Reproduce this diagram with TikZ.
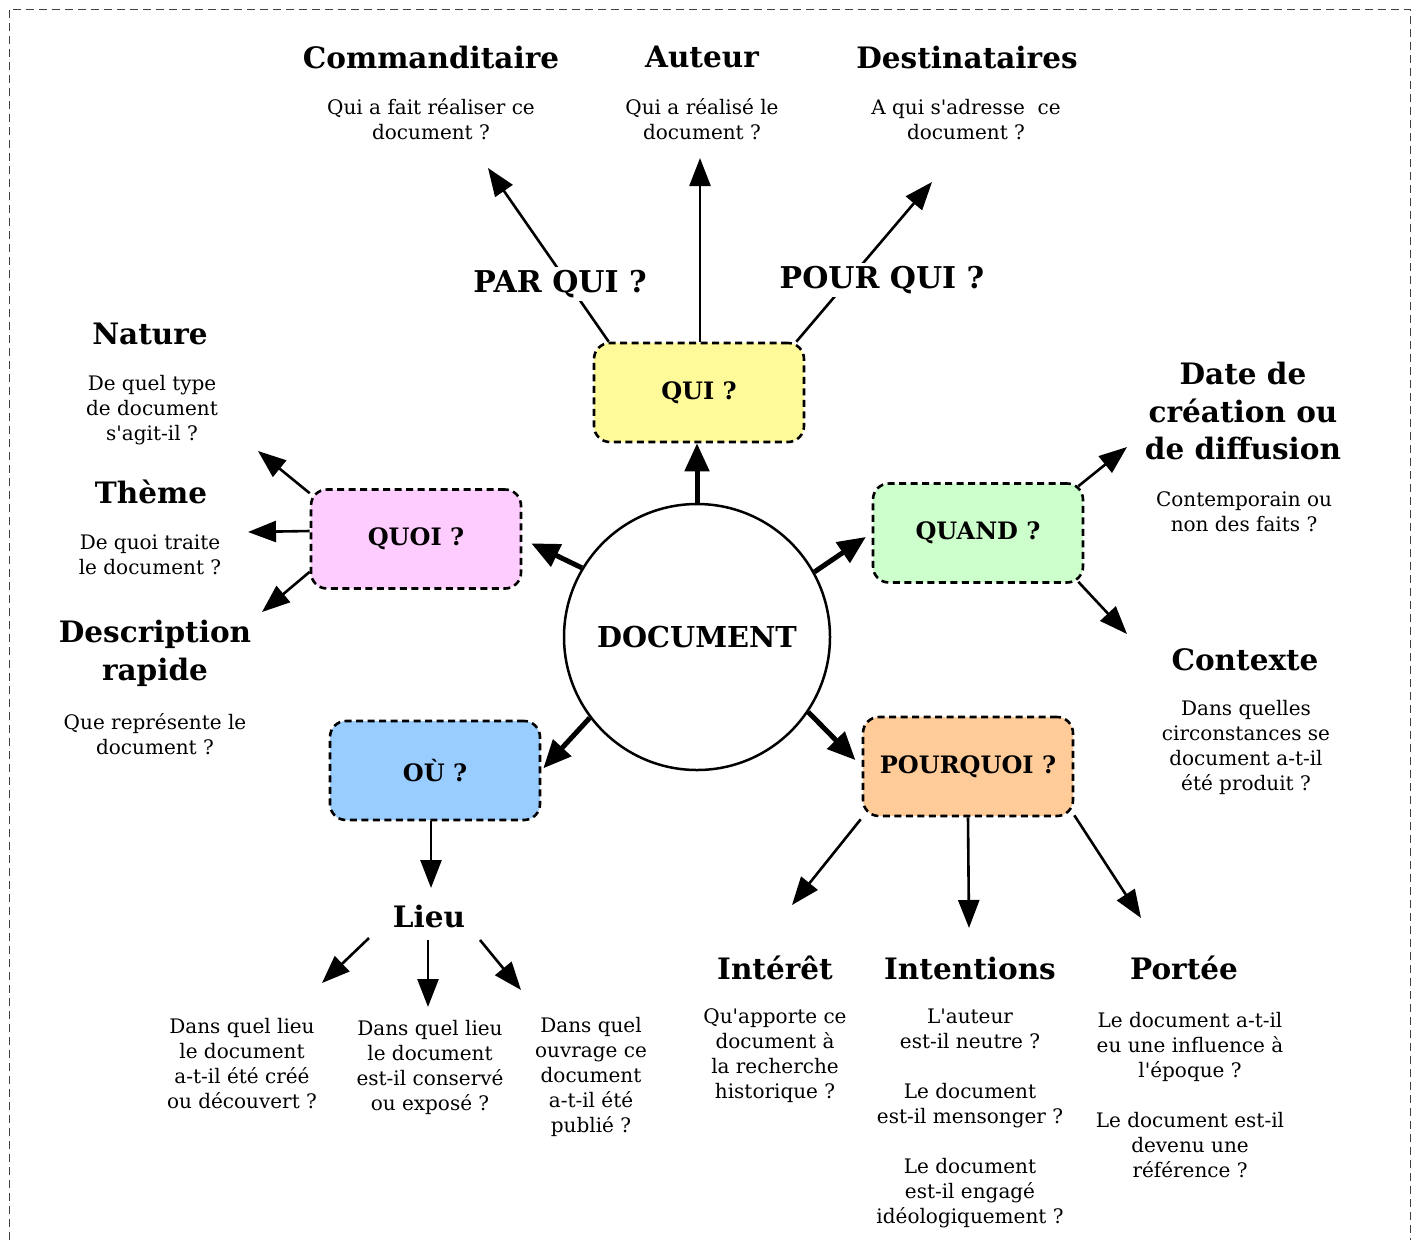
\documentclass[tikz,border=0pt]{standalone}
\usepackage{fontspec}
\setmainfont{DejaVu Serif}
\usetikzlibrary{arrows.meta}
\definecolor{qyellow}{HTML}{FFFA99}
\definecolor{qpink}{HTML}{FFCCFF}
\definecolor{qgreen}{HTML}{CCFFCC}
\definecolor{qblue}{HTML}{99CCFF}
\definecolor{qorange}{HTML}{FFCC99}
\newcommand{\ap}{\textquotesingle}
\tikzset{
 qbox/.style={draw, line width=2.6pt, dash pattern=on 7pt off 4.5pt, rounded corners=16pt,
   minimum width=210pt, minimum height=99pt, inner sep=0pt,
   font=\fontsize{24}{28}\selectfont\bfseries},
 ttl/.style={font=\fontsize{29.5}{37.5}\selectfont\bfseries, align=center, inner sep=0pt},
 body/.style={font=\fontsize{20}{25}\selectfont, align=center, inner sep=0pt},
 thinarrow/.style={line width=2.6pt, -{Triangle[length=28pt,width=21pt]}},
 thickarrow/.style={line width=5pt, -{Triangle[length=28pt,width=24pt]}},
 qlabel/.style={font=\fontsize{30}{36}\selectfont\bfseries, fill=white, inner sep=3pt},
}
\begin{document}
\begin{tikzpicture}[x=1pt,y=-1pt]
\useasboundingbox (0,0) rectangle (1418,1240);
\draw[black!75, line width=1pt, dash pattern=on 8pt off 5pt] (9,1240) -- (9,9) -- (1410,9) -- (1410,1240);

% central circle
\node[circle, draw, line width=2.5pt, minimum size=266pt, inner sep=0pt,
      font=\fontsize{28.8}{34}\selectfont\bfseries] (doc) at (697,637) {DOCUMENT};

% question boxes
\node[qbox, fill=qyellow] (qui) at (699,392.5) {QUI ?};
\node[qbox, fill=qpink] (quoi) at (416,539) {QUOI ?};
\node[qbox, fill=qgreen] (quand) at (978,533) {QUAND ?};
\node[qbox, fill=qblue] (ou) at (435,770.5) {OÙ ?};
\node[qbox, fill=qorange] (pourquoi) at (968,766.5) {POURQUOI ?};

% thick arrows from circle
\draw[thickarrow] (doc.north) -- (doc.north |- qui.south);
\draw[thickarrow, shorten >=7pt] (doc.29) -- (quand.west);
\draw[thickarrow, shorten >=10pt] (doc.149) -- (quoi.east);
\draw[thickarrow, shorten >=3pt] (doc.217) -- (ou.east);
\draw[thickarrow, shorten >=9pt] (doc.-34) -- (pourquoi.west);

% titles and texts - QUI
\node[ttl] (tcom) at (431,57) {Commanditaire};
\node[body] (bcom) at (431,119.5) {Qui a fait réaliser ce\\document ?};
\node[ttl] (taut) at (702,57) {Auteur};
\node[body] (baut) at (702,119.5) {Qui a réalisé le\\document ?};
\node[ttl] (tdes) at (967,57) {Destinataires};
\node[body] (bdes) at (966,119.5) {A qui s\ap adresse\ \ ce\\document ?};

\coordinate (a1) at (488,168);
\coordinate (a2) at (700,158);
\coordinate (a3) at (932,182);
\draw[thinarrow] ([xshift=16pt]qui.north west) -- (a1);
\draw[thinarrow] (qui.north -| a2) -- (a2);
\draw[thinarrow] ([xshift=-9pt]qui.north east) -- (a3);
\node[qlabel] (parqui) at (560,284) {PAR QUI ?};
\node[qlabel] (pourqui) at (882,280) {POUR QUI ?};

% QUOI
\node[ttl] (tnat) at (150,334) {Nature};
\node[body] (bnat) at (152,410) {De quel type\\de document\\s\ap agit-il ?};
\node[ttl] (tthe) at (151,492) {Thème};
\node[body] (bthe) at (150,554.5) {De quoi traite\\le document ?};
\node[ttl] (tdesc) at (155,653.5) {Description\\rapide};
\node[body] (bdesc) at (155,734.5) {Que représente le\\document ?};
\coordinate (b1) at (258,451);
\coordinate (b2) at (248,532);
\coordinate (b3) at (262,612);
\draw[thinarrow] ([yshift=-5pt]quoi.north west) -- (b1);
\draw[thinarrow] ([yshift=8pt]quoi.west) -- (b2);
\draw[thinarrow] ([yshift=18pt]quoi.south west) -- (b3);

% QUAND
\node[ttl] (tdate) at (1243,411) {Date de\\création ou\\de diffusion};
\node[body] (bdate) at (1244,511.5) {Contemporain ou\\non des faits ?};
\node[ttl] (tctx) at (1245,660) {Contexte};
\node[body] (bctx) at (1246,747.5) {Dans quelles\\circonstances se\\document a-t-il\\été produit ?};
\coordinate (c1) at (1127,447);
\coordinate (c2) at (1127,634);
\draw[thinarrow] ([xshift=-6pt,yshift=-4pt]quand.north east) -- (c1);
\draw[thinarrow] ([xshift=-6pt,yshift=2pt]quand.south east) -- (c2);

% OU
\node[ttl] (tlieu) at (429,916) {Lieu};
\coordinate (d0) at (431,888);
\draw[thinarrow] (ou.south -| d0) -- (d0);
\coordinate (d1s) at (369,938);
\coordinate (d1) at (322,983);
\coordinate (d2s) at (428,940);
\coordinate (d2) at (428,1007);
\coordinate (d3s) at (480,940);
\coordinate (d3) at (521,990);
\draw[thinarrow] (d1s) -- (d1);
\draw[thinarrow] (d2s) -- (d2);
\draw[thinarrow] (d3s) -- (d3);
\node[body] (bl1) at (242,1063.5) {Dans quel lieu\\le document\\a-t-il été créé\\ou découvert ?};
\node[body] (bl2) at (430,1067.5) {Dans quel lieu\\le document\\est-il conservé\\ou exposé ?};
\node[body] (bl3) at (591,1077) {Dans quel\\ouvrage ce\\document\\a-t-il été\\publié ?};

% POURQUOI
\coordinate (e1) at (792,905);
\coordinate (e2) at (969,928);
\coordinate (e3) at (1141,918);
\draw[thinarrow] ([xshift=-1pt,yshift=-2pt]pourquoi.south west) -- (e1);
\draw[thinarrow] (pourquoi.south) -- (e2);
\draw[thinarrow] ([yshift=2pt]pourquoi.south east) -- (e3);
\node[ttl] (tint) at (775,968) {Intérêt};
\node[body] (bint) at (775,1055.5) {Qu\ap apporte ce\\document à\\la recherche\\historique ?};
\node[ttl] (tinten) at (970,968) {Intentions};
\node[body] (binten) at (970,1118.5) {L\ap auteur\\est-il neutre ?\\[25pt]Le document\\est-il mensonger ?\\[25pt]Le document\\est-il engagé\\idéologiquement ?};
\node[ttl] (tpor) at (1184,968) {Portée};
\node[body] (bpor) at (1190,1095) {Le document a-t-il\\eu une influence à\\l\ap époque ?\\[25pt]Le document est-il\\devenu une\\référence ?};
\end{tikzpicture}
\end{document}
